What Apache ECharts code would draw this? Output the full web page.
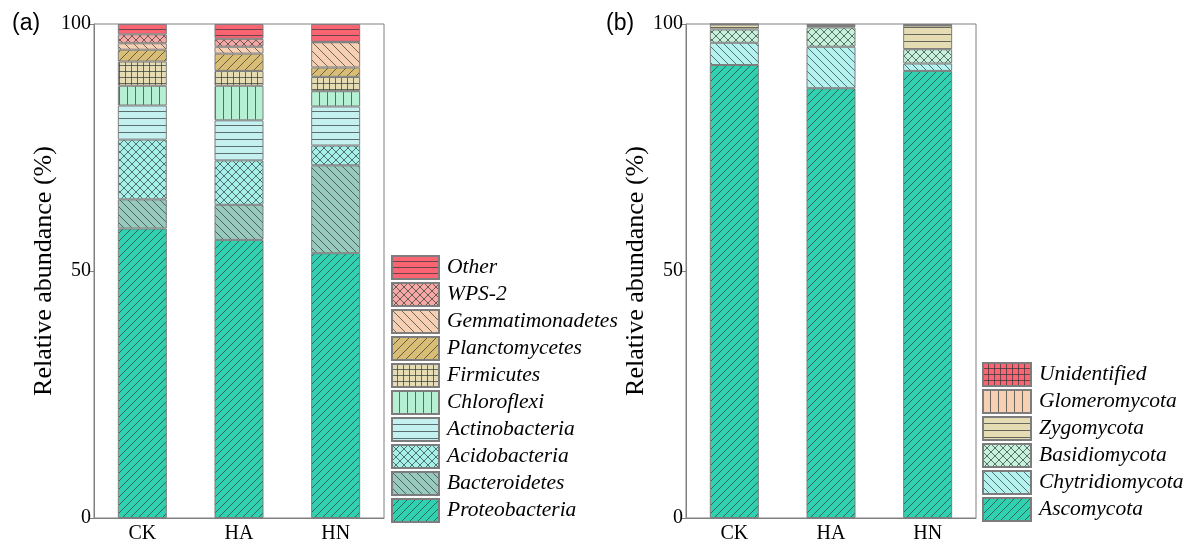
<!DOCTYPE html>
<html><head><meta charset="utf-8">
<script src="https://cdn.jsdelivr.net/npm/echarts@6/dist/echarts.min.js"></script>
<style>html,body{margin:0;padding:0;background:#fff}#c{width:1184px;height:544px}</style>
</head><body><div id="c"></div>
<script>
// ---- data ----
const categories = ['CK', 'HA', 'HN'];
const yTicks = [0, 50, 100];
// (a) bacteria, bottom to top
const bacteriaNames = ['Proteobacteria','Bacteroidetes','Acidobacteria','Actinobacteria','Chloroflexi','Firmicutes','Planctomycetes','Gemmatimonadetes','WPS-2','Other'];
const proteobacteria   = [58.6, 56.3, 53.6];
const bacteroidetes    = [5.9, 7.1, 17.8];
const acidobacteria    = [12.1, 9.0, 4.0];
const actinobacteria   = [6.9, 8.1, 7.9];
const chloroflexi      = [4.0, 7.0, 3.1];
const firmicutes       = [4.9, 3.0, 2.9];
const planctomycetes   = [2.4, 3.5, 1.9];
const gemmatimonadetes = [1.3, 1.4, 5.1];
const wps2             = [1.8, 1.6, 0.1];
const otherBac         = [2.1, 3.0, 3.6];
// (b) fungi, bottom to top
const fungiNames = ['Ascomycota','Chytridiomycota','Basidiomycota','Zygomycota','Glomeromycota','Unidentified'];
const ascomycota      = [91.7, 87.0, 90.5];
const chytridiomycota = [4.5, 8.4, 1.5];
const basidiomycota   = [2.7, 3.9, 2.9];
const zygomycota      = [1.0, 0.3, 4.8];
const glomeromycota   = [0.05, 0.1, 0.05];
const unidentified    = [0.05, 0.3, 0.25];

const bacteriaData = [proteobacteria, bacteroidetes, acidobacteria, actinobacteria, chloroflexi, firmicutes, planctomycetes, gemmatimonadetes, wps2, otherBac];
const fungiData = [ascomycota, chytridiomycota, basidiomycota, zygomycota, glomeromycota, unidentified];

// ---- patterns ----
function pat(bg, kind, s) {
  const c = document.createElement('canvas');
  c.width = s; c.height = s;
  const g = c.getContext('2d');
  g.fillStyle = bg; g.fillRect(0, 0, s, s);
  g.strokeStyle = 'rgba(45,55,55,0.7)'; g.lineWidth = 1;
  g.beginPath();
  if (kind.indexOf('h') >= 0) { g.moveTo(0, s - 0.5); g.lineTo(s, s - 0.5); }
  if (kind.indexOf('v') >= 0) { g.moveTo(s - 0.5, 0); g.lineTo(s - 0.5, s); }
  if (kind.indexOf('/') >= 0 || kind.indexOf('x') >= 0) {
    g.moveTo(-1, s + 1); g.lineTo(s + 1, -1);
    g.moveTo(-1, 1); g.lineTo(1, -1);
    g.moveTo(s - 1, s + 1); g.lineTo(s + 1, s - 1);
  }
  if (kind.indexOf('\\') >= 0 || kind.indexOf('x') >= 0) {
    g.moveTo(-1, -1); g.lineTo(s + 1, s + 1);
    g.moveTo(s - 1, -1); g.lineTo(s + 1, 1);
    g.moveTo(-1, s - 1); g.lineTo(1, s + 1);
  }
  g.stroke();
  return { image: c, repeat: 'repeat' };
}
const bacteriaFill = [
  pat('#2fd1b0', '/', 8),
  pat('#97c9bd', '\\', 8),
  pat('#a6f0ea', 'x', 8),
  pat('#c4f1ef', 'h', 7),
  pat('#b5efd4', 'v', 8),
  pat('#e6dcb4', 'hv', 6),
  pat('#d9bd74', '/', 9),
  pat('#f7d0b4', '\\', 9),
  pat('#f6a8a4', 'x', 8),
  pat('#fb6473', 'h', 6)
];
const fungiFill = [
  pat('#2fd1b0', '/', 8),
  pat('#b4f2f0', '\\', 8),
  pat('#c6f2dc', 'x', 8),
  pat('#e6dcb4', 'h', 7),
  pat('#f7d0b4', 'v', 8),
  pat('#fb6473', 'hv', 6)
];

const serif = 'Liberation Serif';
function xAxis(gi) {
  return {
    type: 'category', gridIndex: gi, data: categories,
    axisLine: { lineStyle: { color: '#808080', width: 1 } },
    axisTick: { inside: true, alignWithLabel: true, length: 5, lineStyle: { color: '#808080' } },
    axisLabel: { color: '#000', fontFamily: serif, fontSize: 20, margin: 6 }
  };
}
function yAxis(gi) {
  return {
    type: 'value', gridIndex: gi, min: yTicks[0], max: yTicks[yTicks.length - 1], interval: yTicks[1] - yTicks[0],
    name: 'Relative abundance (%)', nameLocation: 'middle', nameGap: 36,
    nameTextStyle: { color: '#000', fontFamily: serif, fontSize: 26 },
    axisLine: { show: true, lineStyle: { color: '#808080', width: 1 } },
    axisTick: { show: true, inside: false, length: 5, lineStyle: { color: '#808080' } },
    axisLabel: { color: '#000', fontFamily: serif, fontSize: 20, margin: 3 },
    splitLine: { show: false }
  };
}
const series = [];
bacteriaNames.forEach((n, i) => series.push({
  name: n, type: 'bar', stack: 'a', xAxisIndex: 0, yAxisIndex: 0, barWidth: 49,
  data: bacteriaData[i],
  itemStyle: { color: bacteriaFill[i], borderColor: '#7d7d7d', borderWidth: 1 },
  emphasis: { disabled: true }
}));
fungiNames.forEach((n, i) => series.push({
  name: n, type: 'bar', stack: 'b', xAxisIndex: 1, yAxisIndex: 1, barWidth: 49,
  data: fungiData[i],
  itemStyle: { color: fungiFill[i], borderColor: '#7d7d7d', borderWidth: 1 },
  emphasis: { disabled: true }
}));

const legendText = { fontFamily: serif, fontStyle: 'italic', fontSize: 21.5, lineHeight: 22, color: '#000', padding: [0, 0, 0, 3] };
const chart = echarts.init(document.getElementById('c'), null, { renderer: 'canvas' });
chart.setOption({
  animation: false,
  backgroundColor: '#fff',
  title: [
    { text: '(a)', left: 7, top: 7, textStyle: { fontFamily: 'Liberation Sans', fontWeight: 'normal', fontSize: 23, color: '#000' } },
    { text: '(b)', left: 601, top: 7, textStyle: { fontFamily: 'Liberation Sans', fontWeight: 'normal', fontSize: 23, color: '#000' } }
  ],
  grid: [
    { left: 94, top: 24, width: 290, height: 496, show: true, borderColor: '#808080', borderWidth: 1, containLabel: false },
    { left: 686, top: 24, width: 290, height: 496, show: true, borderColor: '#808080', borderWidth: 1, containLabel: false }
  ],
  xAxis: [xAxis(0), xAxis(1)],
  yAxis: [yAxis(0), yAxis(1)],
  legend: [
    { data: bacteriaNames.slice().reverse(), orient: 'vertical', left: 391, top: 255, height: 288, padding: 0,
      icon: 'rect', itemWidth: 47, itemHeight: 23, itemGap: 2,
      selectedMode: false, textStyle: legendText },
    { data: fungiNames.slice().reverse(), orient: 'vertical', left: 982, top: 362, height: 180, padding: 0,
      icon: 'rect', itemWidth: 48, itemHeight: 23, itemGap: 2,
      selectedMode: false, textStyle: legendText }
  ],
  series: series
});
</script></body></html>
